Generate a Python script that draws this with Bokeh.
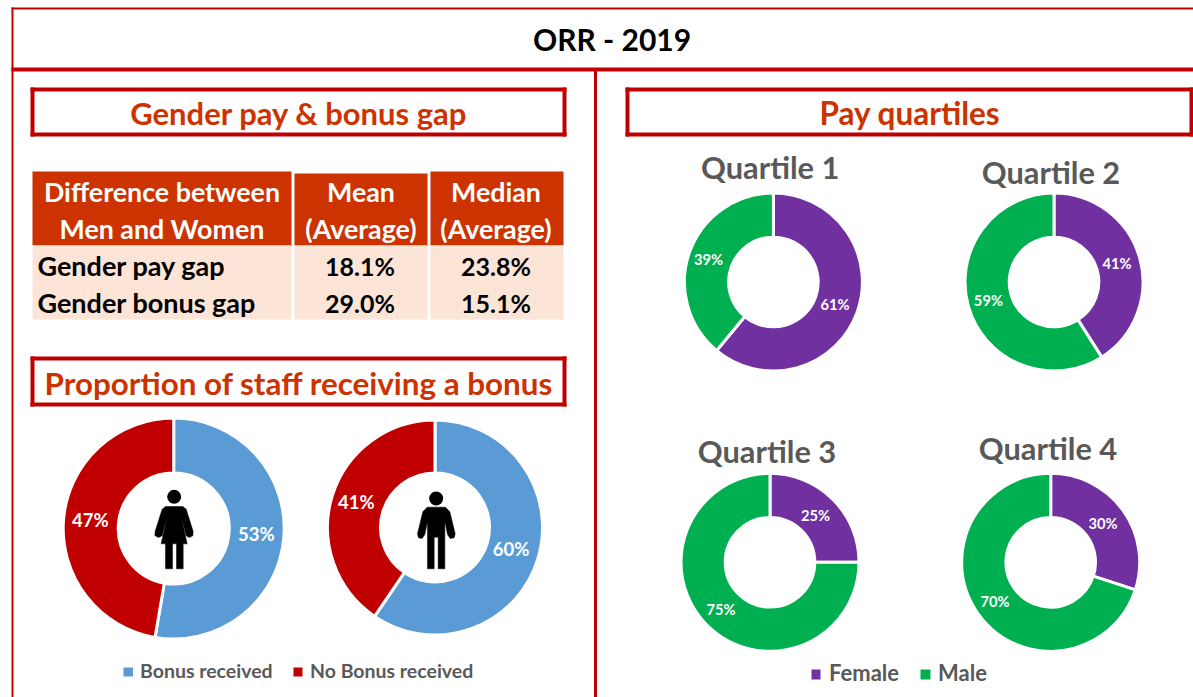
import math
from bokeh.plotting import figure
from bokeh.models import Range1d
from bokeh.core.properties import value
from bokeh.embed import file_html
from bokeh.resources import INLINE

# ---- data ----
title_text = "ORR - 2019"
section_titles = ["Gender pay & bonus gap", "Proportion of staff receiving a bonus", "Pay quartiles"]
table_head = [["Difference between", "Men and Women"], ["Mean", "(Average)"], ["Median", "(Average)"]]
table_rows = ["Gender pay gap", "Gender bonus gap"]
table_mean = ["18.1%", "29.0%"]
table_median = ["23.8%", "15.1%"]

bonus_series = ["Bonus received", "No Bonus received"]
bonus_female = [52.7, 47.3]
bonus_male = [59.5, 40.5]
bonus_female_labels = ["53%", "47%"]
bonus_male_labels = ["60%", "41%"]

quartile_names = ["Quartile 1", "Quartile 2", "Quartile 3", "Quartile 4"]
quartile_series = ["Female", "Male"]
quartile_female = [61, 41, 25, 30]
quartile_male = [39, 59, 75, 70]

# ---- colours ----
RED = "#C00000"; ORANGE = "#CC3300"; PEACH = "#FCE4D6"; GREY = "#595959"
BLUE = "#5B9BD5"; PURPLE = "#7030A0"; GREEN = "#00B050"
FONT = value("Lato")

W, H = 1193, 697
p = figure(width=W, height=H, output_backend="svg", toolbar_location=None,
           x_range=Range1d(0, W), y_range=Range1d(0, H),
           min_border=0, outline_line_color=None, background_fill_color="white",
           border_fill_color="white")
p.axis.visible = False
p.grid.visible = False

def Y(py):
    return 697 - py

def rect(x0, y0, x1, y1, color):
    p.quad(left=[x0], right=[x1], top=[Y(y0)], bottom=[Y(y1)], fill_color=color, line_color=None)

def txt(x, y, s, size, color="black", align="center"):
    p.text(x=[x - 0.5], y=[Y(y - 1.8)], text=[s], text_font=FONT, text_font_style="bold",
           text_font_size=f"{size}px", text_color=color, text_align=align, text_baseline="middle")

def box(x0, y0, x1, y1, t=4):
    rect(x0, y0, x1, y0 + t, RED); rect(x0, y1 - t, x1, y1, RED)
    rect(x0, y0, x0 + t, y1, RED); rect(x1 - t, y0, x1, y1, RED)

def donut(cx, cy, r, hole, vals, cols, gap=3):
    total = sum(vals); cum = 0
    for v, c in zip(vals, cols):
        a0 = math.pi / 2 - 2 * math.pi * (cum + v) / total
        a1 = math.pi / 2 - 2 * math.pi * cum / total
        p.annular_wedge(x=[cx - 0.5], y=[Y(cy)], inner_radius=hole - gap / 2, outer_radius=r + gap / 2,
                        inner_radius_units="screen", outer_radius_units="screen",
                        start_angle=a0, end_angle=a1, fill_color=c,
                        line_color="white", line_width=gap)
        cum += v

# ---- frame ----
rect(11, 7, 1193, 9, RED)
rect(11, 7, 13, 697, RED)
rect(11, 67, 1193, 71, RED)
rect(593.5, 69, 596.5, 697, RED)
txt(612, 40, title_text, 30)

# ---- section boxes ----
box(30, 87, 566, 136)
box(625, 87, 1193, 136)
box(30, 356, 566, 406)
txt(299, 114, section_titles[0], 31, ORANGE)
txt(299, 384, section_titles[1], 31.4, ORANGE)
txt(910, 114, section_titles[2], 31.5, ORANGE)

# ---- table ----
cols = [(32, 291, 171), (294, 427, 173), (430, 563, 171)]
centres = [162, 361, 496]
for (x0, x1, top), c, head in zip(cols, centres, table_head):
    rect(x0, top, x1, 245, ORANGE)
    rect(x0, 245, x1, 319, PEACH)
    txt(c, 193, head[0], 26.8, "white")
    txt(c, 230, head[1], 26.8, "white")
for name, mean, med, y in zip(table_rows, table_mean, table_median, [267, 304]):
    txt(37.5, y, name, 27, "black", "left")
    txt(360, y, mean, 25)
    txt(496, y, med, 25)

# ---- bonus donuts ----
bcols = [BLUE, RED]
donut(173.7, 528, 109, 57, bonus_female, bcols)
donut(435, 527, 106, 56, bonus_male, bcols)
for (x, y), s in zip([(256.4, 535.3), (90.3, 521)], bonus_female_labels):
    txt(x, y, s, 18.5, "white")
for (x, y), s in zip([(511, 550.3), (356.3, 503.3)], bonus_male_labels):
    txt(x, y, s, 18.5, "white")

# person icons (shape outlines in pixels inside the two 90x110 hole crops)
def icon(ox, oy, pts, head):
    xs = [ox + a / 3 for a, b in pts]
    ys = [Y(oy + b / 3) for a, b in pts]
    p.patch(xs, ys, fill_color="black", line_color="black", line_width=0.5)
    p.circle(x=[ox + head[0] / 3], y=[Y(oy + head[1] / 3)], radius=head[2] / 3,
             radius_units="screen", fill_color="black", line_color=None)

woman = [(105,108),(157,108),(167,116),(188,183),(187,196),(176,201),(167,196),(152,138),(170,220),(158,220),
         (158,295),(138,295),(138,220),(126,220),(126,295),(105,295),(105,220),(92,220),(110,138),(95,196),
         (84,201),(73,195),(74,182),(95,116)]
man = [(110,110),(165,110),(178,124),(194,190),(191,202),(179,204),(171,192),(163,152),(163,295),(143,295),
       (143,200),(131,200),(131,295),(111,295),(111,152),(103,192),(95,204),(84,202),(81,190),(97,124)]
icon(130, 470, woman, (131, 79, 21))
icon(390, 470, man, (137, 84, 21))

# bonus legend
rect(123, 667, 132.5, 676, BLUE)
txt(140, 671.5, bonus_series[0], 19.5, GREY, "left")
rect(293, 667, 302, 676, RED)
txt(310, 671.5, bonus_series[1], 19.5, GREY, "left")

# ---- quartile donuts ----
qcols = [PURPLE, GREEN]
centres_q = [(773.4, 281.5), (1054, 281.5), (770, 561.8), (1050.7, 561.8)]
title_pos = [(770.2, 169), (1051, 174), (767, 453), (1048, 450)]
f_lab = [(835, 305), (1117, 264), (815.6, 516), (1103, 524)]
m_lab = [(708.5, 260), (988.4, 301), (721, 610), (995, 602)]
for i, name in enumerate(quartile_names):
    cx, cy = centres_q[i]
    vals = [quartile_female[i], quartile_male[i]]
    donut(cx, cy, 87.5, 46.3, vals, qcols)
    txt(title_pos[i][0], title_pos[i][1], name, 30.8, GREY)
    txt(f_lab[i][0], f_lab[i][1], f"{vals[0]}%", 14.7, "white")
    txt(m_lab[i][0], m_lab[i][1], f"{vals[1]}%", 14.7, "white")

# quartile legend
rect(811, 669, 820, 679, PURPLE)
txt(829, 674, quartile_series[0], 22, GREY, "left")
rect(920, 669, 930, 679, GREEN)
txt(938, 674, quartile_series[1], 22, GREY, "left")

open("out.html", "w").write(file_html(p, INLINE))
